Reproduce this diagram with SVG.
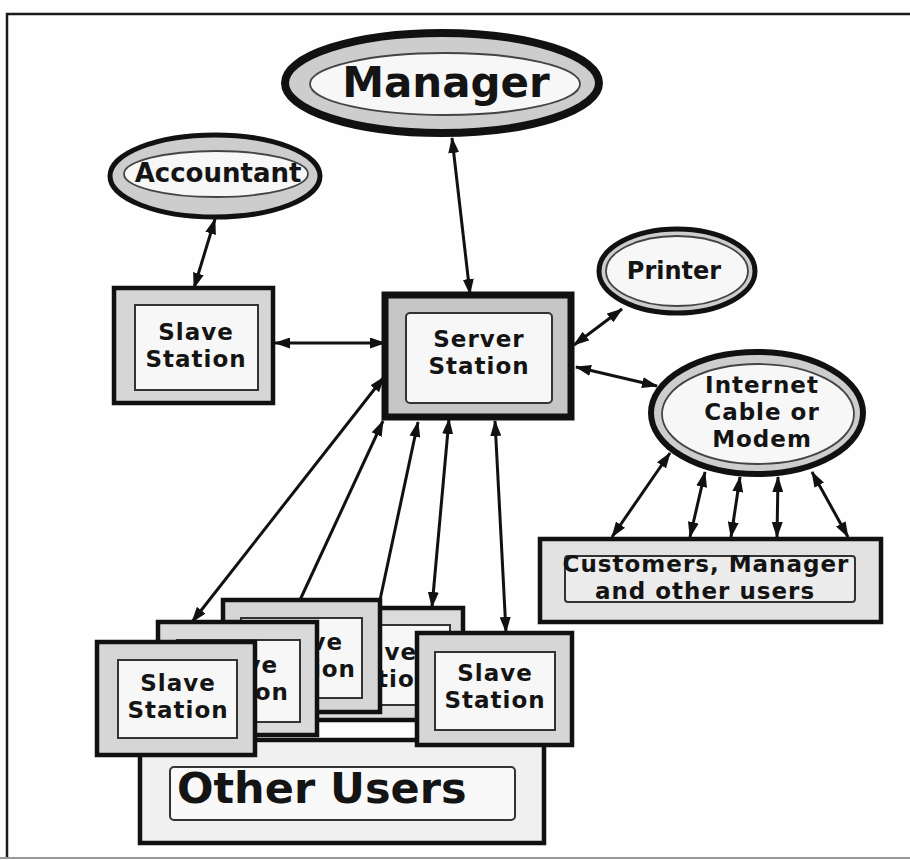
<svg xmlns="http://www.w3.org/2000/svg" width="910" height="860" viewBox="0 0 910 860">
<defs>
<style>
.t{font-family:"DejaVu Sans",Verdana,sans-serif;font-weight:bold;fill:#141414;text-anchor:middle}
.m{font-size:23px;letter-spacing:1px}
.box{stroke:#111;stroke-width:4.5}
.inner{fill:#f7f7f7;stroke:#333;stroke-width:2}
.ell{fill:#cdcdcd;stroke:#111}
.iell{fill:#f7f7f7;stroke:#444;stroke-width:1.8}
.c{stroke:#111;stroke-width:3;fill:none}
.b{marker-start:url(#ah);marker-end:url(#ah)}
.s{marker-start:url(#ah)}
</style>
<marker id="ah" viewBox="0 0 16 11" refX="15" refY="5.5" markerWidth="16" markerHeight="11" markerUnits="userSpaceOnUse" orient="auto-start-reverse">
<path d="M0,0 L16,5.5 L0,11 z" fill="#111"/>
</marker>
</defs>
<rect width="910" height="860" fill="#fefefe"/>
<g id="frame">
<line x1="6" y1="14" x2="910" y2="14" stroke="#1a1a1a" stroke-width="2.5"/>
<line x1="7" y1="13" x2="7" y2="858" stroke="#1a1a1a" stroke-width="2.5"/>
<line x1="0" y1="858" x2="910" y2="858" stroke="#999" stroke-width="2"/>
</g>
<g id="connectors">
<line class="c b" x1="452" y1="138" x2="470" y2="294"/>
<line class="c b" x1="215" y1="219" x2="194" y2="288"/>
<line class="c b" x1="275" y1="343" x2="385" y2="343"/>
<line class="c b" x1="574" y1="345" x2="622" y2="309"/>
<line class="c b" x1="576" y1="367" x2="657" y2="386"/>
<line class="c b" x1="670" y1="453" x2="612" y2="537"/>
<line class="c b" x1="705" y1="472" x2="690" y2="537"/>
<line class="c b" x1="740" y1="477" x2="731" y2="537"/>
<line class="c b" x1="778" y1="477" x2="777" y2="537"/>
<line class="c b" x1="812" y1="472" x2="848" y2="537"/>
<line class="c b" x1="384" y1="377" x2="192" y2="622"/>
<line class="c s" x1="383" y1="421" x2="300" y2="600"/>
<line class="c s" x1="418" y1="422" x2="380" y2="600"/>
<line class="c b" x1="449" y1="419" x2="432" y2="607"/>
<line class="c b" x1="495" y1="421" x2="506" y2="632"/>
</g>
<g id="manager">
<ellipse class="ell" cx="442" cy="83" rx="157" ry="50" stroke-width="8"/>
<ellipse class="iell" cx="445" cy="84" rx="135" ry="31"/>
<text class="t" x="446" y="97" font-size="42">Manager</text>
</g>
<g id="accountant">
<ellipse class="ell" cx="215" cy="176" rx="105" ry="41" stroke-width="5"/>
<ellipse class="iell" cx="216" cy="174" rx="92" ry="23"/>
<text class="t" x="218" y="182" font-size="26">Accountant</text>
</g>
<g id="printer">
<ellipse class="ell" cx="677" cy="271" rx="78" ry="42" stroke-width="5"/>
<ellipse class="iell" cx="677" cy="271" rx="71" ry="35"/>
<text class="t" x="674" y="279" font-size="24">Printer</text>
</g>
<g id="internet">
<ellipse class="ell" cx="757" cy="413" rx="106" ry="61" stroke-width="6"/>
<ellipse class="iell" cx="758" cy="414" rx="96" ry="50"/>
<text class="t m" x="762" y="393">Internet</text>
<text class="t m" x="762" y="420">Cable or</text>
<text class="t m" x="762" y="447">Modem</text>
</g>
<g id="slave-top">
<rect class="box" x="114" y="288" width="159" height="115" style="fill:#d6d6d6"/>
<rect class="inner" x="135" y="305" width="123" height="85"/>
<text class="t m" x="196" y="340">Slave</text>
<text class="t m" x="196" y="367">Station</text>
</g>
<g id="server">
<rect class="box" x="385" y="295" width="186" height="122" style="fill:#c6c6c6;stroke-width:7"/>
<rect class="inner" x="406" y="313" width="146" height="90" rx="4"/>
<text class="t m" x="479" y="347">Server</text>
<text class="t m" x="479" y="374">Station</text>
</g>
<g id="customers">
<rect class="box" x="540" y="539" width="341" height="83" style="fill:#e2e2e2"/>
<rect class="inner" x="565" y="556" width="290" height="46" rx="3" style="fill:#ececec"/>
<text class="t m" x="706" y="572">Customers, Manager</text>
<text class="t m" x="705" y="599">and other users</text>
</g>
<g id="other-users">
<rect class="box" x="140" y="740" width="404" height="103" style="fill:#f0f0f0"/>
<rect class="inner" x="170" y="767" width="345" height="53" rx="4" style="fill:#f9f9f9"/>
<text class="t" x="177" y="803" font-size="43" style="text-anchor:start">Other Users</text>
</g>
<g id="slave-d">
<rect class="box" x="303" y="608" width="160" height="112" style="fill:#dcdcdc"/>
<rect class="inner" x="322" y="625" width="128" height="80"/>
<text class="t m" x="417" y="660" style="text-anchor:end">ave</text>
<text class="t m" x="377" y="687" style="text-anchor:start">tio</text>
</g>
<g id="slave-c">
<rect class="box" x="223" y="600" width="157" height="112" style="fill:#d6d6d6"/>
<rect class="inner" x="241" y="618" width="121" height="80"/>
<text class="t m" x="343" y="650" style="text-anchor:end">ve</text>
<text class="t m" x="356" y="677" style="text-anchor:end">ion</text>
</g>
<g id="slave-b">
<rect class="box" x="158" y="622" width="159" height="113" style="fill:#dadada"/>
<rect class="inner" x="177" y="640" width="123" height="82"/>
<text class="t m" x="278" y="673" style="text-anchor:end">ve</text>
<text class="t m" x="289" y="700" style="text-anchor:end">on</text>
</g>
<g id="slave-a">
<rect class="box" x="97" y="642" width="158" height="113" style="fill:#d6d6d6"/>
<rect class="inner" x="118" y="660" width="119" height="78"/>
<text class="t m" x="178" y="691">Slave</text>
<text class="t m" x="178" y="718">Station</text>
</g>
<g id="slave-e">
<rect class="box" x="417" y="633" width="155" height="112" style="fill:#d6d6d6"/>
<rect class="inner" x="435" y="652" width="120" height="78"/>
<text class="t m" x="495" y="681">Slave</text>
<text class="t m" x="495" y="708">Station</text>
</g>
</svg>
